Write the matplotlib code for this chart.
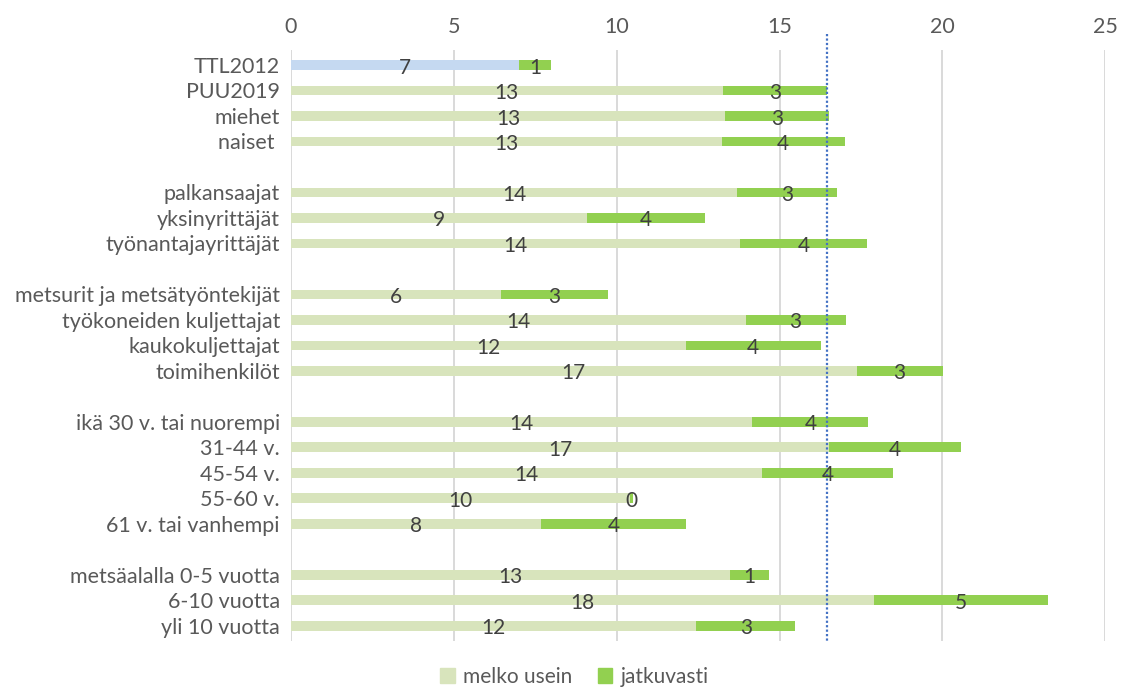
import matplotlib.pyplot as plt

plt.rcParams['font.family'] = ['Lato', 'DejaVu Sans']

# rows; None marks an empty spacer row
categories = ["TTL2012", "PUU2019", "miehet", "naiset ", None,
              "palkansaajat", "yksinyrittäjät", "työnantajayrittäjät", None,
              "metsurit ja metsätyöntekijät", "työkoneiden kuljettajat",
              "kaukokuljettajat", "toimihenkilöt", None,
              "ikä 30 v. tai nuorempi", "31-44 v.", "45-54 v.", "55-60 v.",
              "61 v. tai vanhempi", None,
              "metsäalalla 0-5 vuotta", "6-10 vuotta", "yli 10 vuotta"]
melko_usein = [7.0, 13.25, 13.34, 13.22, None,
               13.7, 9.1, 13.8, None,
               6.45, 13.96, 12.12, 17.37, None,
               14.17, 16.53, 14.45, 10.4, 7.68, None,
               13.48, 17.9, 12.45]
jatkuvasti = [0.98, 3.22, 3.19, 3.78, None,
              3.05, 3.6, 3.9, None,
              3.27, 3.07, 4.15, 2.64, None,
              3.56, 4.03, 4.05, 0.1, 4.45, None,
              1.2, 5.35, 3.03]
reference_line = 16.45

c_light = "#d8e4bc"
c_green = "#92d050"
c_blue = "#c5d9f1"
txt = "#404040"

fig = plt.figure(figsize=(11.22, 6.96), dpi=100)
ax = fig.add_axes([0.2594, 0.079, 0.7256, 0.8496])

rows = [i for i, c in enumerate(categories) if c is not None]
h = 0.38
for i in rows:
    a = melko_usein[i]
    b = jatkuvasti[i]
    first = c_blue if i == 0 else c_light
    ax.barh(i, a, height=h, color=first, zorder=2)
    ax.barh(i, b, left=a, height=h, color=c_green, zorder=2)
    ax.text(a / 2, i + 0.1, f"{a:.0f}", ha="center", va="center",
            fontsize=15, color=txt, zorder=4)
    ax.text(a + b / 2, i + 0.1, f"{b:.0f}", ha="center", va="center",
            fontsize=15, color=txt, zorder=4)

ax.plot([reference_line, reference_line], [-1.2, 22.6], color="#4472c4",
        linestyle=(0, (1, 1)), linewidth=1.6, clip_on=False, zorder=3)

ax.set_xlim(0, 25)
ax.set_ylim(22.6, -0.6)
ax.set_xticks(range(0, 26, 5))
ax.xaxis.tick_top()
ax.set_yticks(rows)
ax.set_yticklabels([categories[i] for i in rows])
ax.tick_params(axis="both", length=0, labelsize=15.5, colors="#595959")
ax.tick_params(axis="x", pad=9)
ax.tick_params(axis="y", pad=8)
ax.grid(axis="x", color="#d9d9d9", linewidth=1.4, zorder=0)
for s in ax.spines.values():
    s.set_visible(False)

handles = [plt.Rectangle((0, 0), 1, 1, color=c_light),
           plt.Rectangle((0, 0), 1, 1, color=c_green)]
fig.legend(handles, ["melko usein", "jatkuvasti"], loc="lower center",
           bbox_to_anchor=(0.512, -0.014), ncol=2, frameon=False,
           fontsize=15, handlelength=0.7, handleheight=0.7,
           columnspacing=1.2, handletextpad=0.4, labelcolor="#595959")

fig.savefig("out.png", dpi=100)
